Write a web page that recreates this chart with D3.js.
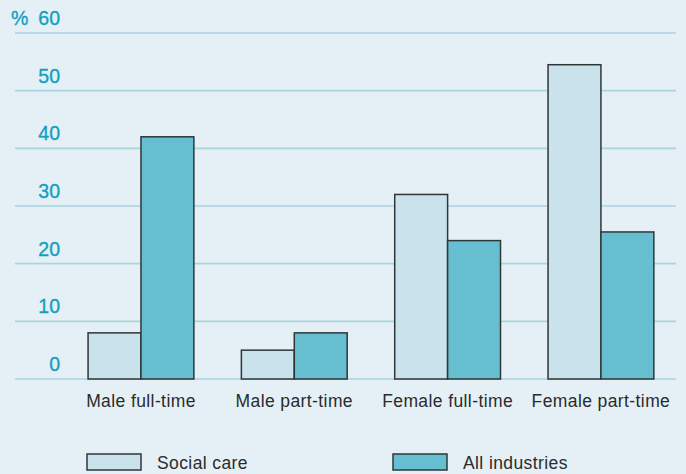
<!DOCTYPE html>
<html>
<head>
<meta charset="utf-8">
<script src="https://cdn.jsdelivr.net/npm/d3@7"></script>
<style>
  html, body { margin: 0; padding: 0; background: #e4f0f5; }
  svg { display: block; }
  text { font-family: "Liberation Sans", Arial, sans-serif; }
</style>
</head>
<body>
<svg id="chart" width="686" height="474"></svg>
<script>
// Share of workers by employment type (%)
const categories = ["Male full-time", "Male part-time", "Female full-time", "Female part-time"];
const seriesNames = ["Social care", "All industries"];
const socialCare = [8, 5, 32, 54.5];
const allIndustries = [42, 8, 24, 25.5];
const yTicks = [0, 10, 20, 30, 40, 50, 60];
const colors = ["#c9e2eb", "#66bfd1"];

const svg = d3.select("#chart");
const W = 686, H = 474;

svg.append("rect").attr("width", W).attr("height", H).attr("fill", "#e4f0f5");

const y = d3.scaleLinear().domain([0, 60]).range([379, 33]);
const x0 = d3.scaleBand().domain(categories).range([64.3, 677.6])
  .paddingInner(0.31).paddingOuter(0.155);
const x1 = d3.scaleBand().domain(seriesNames).range([0, x0.bandwidth()]);

const rows = categories.map((c, i) => ({ cat: c, values: [socialCare[i], allIndustries[i]] }));

// horizontal gridlines
const grid = svg.append("g");
grid.selectAll("line").data(yTicks).join("line")
  .attr("x1", 15).attr("x2", 676)
  .attr("y1", d => y(d)).attr("y2", d => y(d))
  .attr("stroke", "#a9d5e0").attr("stroke-width", 1.6);

// y tick labels
const tickColor = "#139fc3";
const yl = svg.append("g")
  .attr("fill", tickColor).attr("stroke", tickColor).attr("stroke-width", 0.35)
  .attr("font-size", 19.5);
yl.selectAll("text").data(yTicks).join("text")
  .attr("x", 60).attr("y", d => y(d) - 8)
  .attr("text-anchor", "end")
  .text(d => d);
yl.append("text").attr("x", 11).attr("y", y(60) - 8).text("%");

// bars
const groups = svg.append("g").selectAll("g").data(rows).join("g")
  .attr("transform", d => `translate(${x0(d.cat)},0)`);
groups.selectAll("rect")
  .data(d => d.values.map((v, j) => ({ key: seriesNames[j], v, j })))
  .join("rect")
  .attr("x", d => x1(d.key))
  .attr("width", x1.bandwidth())
  .attr("y", d => y(d.v))
  .attr("height", d => y(0) - y(d.v))
  .attr("fill", d => colors[d.j])
  .attr("stroke", "#2f3638").attr("stroke-width", 1.5);

// category labels
svg.append("g").selectAll("text").data(categories).join("text")
  .attr("x", d => x0(d) + x0.bandwidth() / 2)
  .attr("y", 407)
  .attr("text-anchor", "middle")
  .attr("fill", "#2b2b2b")
  .attr("font-size", 17.5)
  .attr("letter-spacing", 0.4)
  .text(d => d);

// legend
const legendX = [87, 393];
const leg = svg.append("g").selectAll("g").data(seriesNames).join("g")
  .attr("transform", (d, i) => `translate(${legendX[i]},454)`);
leg.append("rect").attr("width", 54).attr("height", 16)
  .attr("fill", (d, i) => colors[i])
  .attr("stroke", "#2f3638").attr("stroke-width", 1.5);
leg.append("text").attr("x", 70).attr("y", 15)
  .attr("fill", "#2b2b2b").attr("font-size", 17.5).attr("letter-spacing", 0.4)
  .text(d => d);
</script>
</body>
</html>
